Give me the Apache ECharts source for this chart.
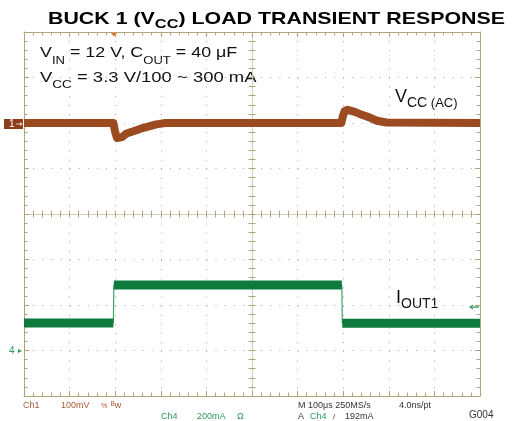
<!DOCTYPE html>
<html><head><meta charset="utf-8">
<script src="https://cdn.jsdelivr.net/npm/echarts@6/dist/echarts.min.js"></script>
<style>html,body{margin:0;padding:0;background:#fff}#c{width:524px;height:421px}</style>
</head><body><div id="c"></div>
<script>
// ---- data (time in µs relative to screen centre) ----
const vccTimeUs = [-500, -304, -300, -296, -292, -285, -275, -260, -246, -224, -210, -190, 196, 199, 203, 209, 216, 227, 241, 256, 274, 295, 500];
const vccMv     = [0,    0,    -20,  -33,  -35,  -31,  -23,  -18,  -13,  -7,   -3,   0,    0,   14,  26,  29,  27,  24,  18,  13,  5,   1,   0];
const ioutTimeUs = [-500, -304, -303, 197, 198, 500];
const ioutMa     = [121,  121,  288,  288, 120, 120];
// axis scales: 10 x 100 µs, ch1 100 mV/div, ch4 200 mA/div
const timeRange = [-500, 500, 100];
const ch1Range = [-600, 200, 100];
const ch4Range = [-200, 1400, 200];
const divRange = [-4, 4, 1];

const TAN = '#B1A47C';
const DOT = '#A6A6A6';
const VCC_COLOR = '#9C4A1F';
const IOUT_COLOR = '#0E7B3C';
const CH1_TXT = '#A65A35';
const CH4_TXT = '#2E9A5E';
const FONT = '"Liberation Sans", Arial, Helvetica, sans-serif';

function axis(r, extra) {
  const a = {
    type: 'value', min: r[0], max: r[1], interval: r[2], silent: true,
    axisLabel: {show: false},
    splitLine: {show: false},
    axisLine: {show: true, onZero: false, lineStyle: {color: TAN, width: 1}},
    axisTick: {show: true, inside: true, length: 5, lineStyle: {color: TAN, width: 1}},
    minorTick: {show: true, splitNumber: 5, length: 3.5, lineStyle: {color: TAN, width: 1}},
    minorSplitLine: {show: false}
  };
  return Object.assign(a, extra);
}
const dotted = {show: true, lineStyle: {color: DOT, width: 1, type: [1, 8.12]}};
const faintLine = {show: true, onZero: false, lineStyle: {color: '#D6CDB4', width: 1}};
const noLine = {show: false, onZero: false};
const ctrTickIn = {show: true, inside: true, length: 3.5, lineStyle: {color: TAN, width: 1}};
const ctrTickOut = {show: true, inside: false, length: 3.5, lineStyle: {color: TAN, width: 1}};
const ctrMinor = {show: true, splitNumber: 5, length: 3.5, lineStyle: {color: TAN, width: 1}};

const vccData = vccTimeUs.map((t, i) => [t, vccMv[i]]);
const ioutThin = ioutTimeUs.map((t, i) => [t, ioutMa[i]]);
const ioutThick = [];
for (let i = 0; i < ioutTimeUs.length - 1; i++) {
  if (ioutMa[i] === ioutMa[i + 1]) {
    ioutThick.push([ioutTimeUs[i], ioutMa[i]], [ioutTimeUs[i + 1], ioutMa[i + 1]], [ioutTimeUs[i + 1], '-']);
  }
}

function txt(x, y, s, color, size, extra) {
  return Object.assign({type: 'text', x: x, y: y, silent: true,
    style: {text: s, fill: color, fontSize: size, fontFamily: FONT, verticalAlign: 'middle', align: 'left'}}, extra || {});
}

const chart = echarts.init(document.getElementById('c'), null, {renderer: 'canvas'});
chart.setOption({
  animation: false,
  backgroundColor: '#fff',
  grid: {left: 24, top: 32, width: 456, height: 364, containLabel: false, outerBoundsMode: 'none'},
  xAxis: [
    axis(timeRange, {position: 'bottom', splitLine: dotted}),
    axis(timeRange, {position: 'top'}),
    axis(timeRange, {position: 'bottom', offset: -182, axisLine: faintLine, axisTick: ctrTickIn, minorTick: ctrMinor}),
    axis(timeRange, {position: 'bottom', offset: -182, axisLine: noLine, axisTick: ctrTickOut, minorTick: ctrMinor})
  ],
  yAxis: [
    axis(ch1Range, {position: 'left', splitLine: dotted}),
    axis(ch4Range, {position: 'right'}),
    axis(divRange, {position: 'left', offset: -228, axisLine: faintLine, axisTick: ctrTickIn, minorTick: ctrMinor}),
    axis(divRange, {position: 'left', offset: -228, axisLine: noLine, axisTick: ctrTickOut, minorTick: ctrMinor})
  ],
  series: [
    {type: 'line', xAxisIndex: 0, yAxisIndex: 0, data: vccData, symbol: 'none', z: 5,
     lineStyle: {color: VCC_COLOR, width: 8, join: 'round'}},
    {type: 'line', xAxisIndex: 0, yAxisIndex: 1, data: ioutThin, symbol: 'none', z: 4,
     lineStyle: {color: '#3FA064', width: 1.2}},
    {type: 'line', xAxisIndex: 0, yAxisIndex: 1, data: ioutThick, symbol: 'none', z: 5, connectNulls: false,
     lineStyle: {color: IOUT_COLOR, width: 9}}
  ],
  graphic: [
    // title
    {type: 'text', x: 48, y: 7, scaleX: 1.257, silent: true, style: {
      text: '{m|BUCK 1 (V}{s|CC}{m|) LOAD TRANSIENT RESPONSE}', verticalAlign: 'top', align: 'left',
      rich: {m: {fontSize: 17, fontWeight: 'bold', fontFamily: FONT, lineHeight: 24, fill: '#000'},
             s: {fontSize: 13, fontWeight: 'bold', fontFamily: FONT, lineHeight: 13, verticalAlign: 'bottom', fill: '#000'}}}},
    {type: 'text', x: 40, y: 40, scaleX: 1.19, silent: true, style: {
      text: '{m|V}{s|IN}{m| = 12 V, C}{s|OUT}{m| = 40 μF}', verticalAlign: 'top', align: 'left',
      rich: {m: {fontSize: 15, fontFamily: FONT, lineHeight: 26, fill: '#111'},
             s: {fontSize: 11, fontFamily: FONT, lineHeight: 11, verticalAlign: 'bottom', fill: '#111'}}}},
    {type: 'text', x: 40, y: 64.5, scaleX: 1.23, silent: true, style: {
      text: '{m|V}{s|CC}{m| = 3.3 V/100 ~ 300 mA}', verticalAlign: 'top', align: 'left',
      rich: {m: {fontSize: 15, fontFamily: FONT, lineHeight: 26, fill: '#111'},
             s: {fontSize: 11, fontFamily: FONT, lineHeight: 11, verticalAlign: 'bottom', fill: '#111'}}}},
    {type: 'text', x: 395, y: 83, silent: true, style: {
      text: '{m|V}{s|CC}{t| (AC)}', verticalAlign: 'top', align: 'left',
      rich: {m: {fontSize: 18, fontFamily: FONT, lineHeight: 27.4, fill: '#111'},
             s: {fontSize: 14, fontFamily: FONT, lineHeight: 14, verticalAlign: 'bottom', fill: '#111'},
             t: {fontSize: 13, fontFamily: FONT, lineHeight: 13.3, verticalAlign: 'bottom', fill: '#111'}}}},
    {type: 'text', x: 396, y: 285, silent: true, style: {
      text: '{m|I}{s|OUT1}', verticalAlign: 'top', align: 'left',
      rich: {m: {fontSize: 18, fontFamily: FONT, lineHeight: 26.2, fill: '#111'},
             s: {fontSize: 14, fontFamily: FONT, lineHeight: 14, verticalAlign: 'bottom', fill: '#111'}}}},
    // channel markers
    {type: 'rect', silent: true, shape: {x: 4, y: 119, width: 19, height: 10}, style: {fill: '#8E3E1C'}},
    txt(9, 124.5, '1', '#fff', 10),
    {type: 'polyline', silent: true, shape: {points: [[16, 124], [21, 124]]}, style: {stroke: '#E8C8B0', lineWidth: 1}},
    {type: 'polygon', silent: true, shape: {points: [[20, 122], [23, 124], [20, 126]]}, style: {fill: '#E8C8B0'}},
    {type: 'polygon', silent: true, shape: {points: [[110, 32], [118, 32], [114, 36.5]]}, style: {fill: '#F06A22'}},
    txt(9, 351.5, '4', CH4_TXT, 10),
    {type: 'polygon', silent: true, shape: {points: [[18, 349], [22, 351], [18, 353]]}, style: {fill: CH4_TXT}},
    {type: 'polygon', silent: true, shape: {points: [[469, 307], [473, 304.5], [473, 309.5]]}, style: {fill: '#3A9A5A'}},
    {type: 'polyline', silent: true, shape: {points: [[472, 307], [479, 307]]}, style: {stroke: '#7DBA92', lineWidth: 2}},
    // status line
    txt(23, 406, 'Ch1', CH1_TXT, 9),
    txt(61, 406, '100mV', CH1_TXT, 9),
    txt(101, 406, '%', CH1_TXT, 7),
    txt(111, 406, 'ᴮw', CH1_TXT, 9),
    txt(161, 417, 'Ch4', CH4_TXT, 9),
    txt(197, 417, '200mA', CH4_TXT, 9),
    txt(237, 417, 'Ω', CH4_TXT, 9),
    txt(298, 406, 'M 100μs 250MS/s', '#333', 9),
    txt(399, 406, '4.0ns/pt', '#333', 9),
    txt(298, 417, 'A', '#333', 9),
    txt(310, 417, 'Ch4', CH4_TXT, 9),
    txt(333, 417, '/', '#333', 8),
    txt(345, 417, '192mA', '#333', 9),
    txt(469, 415, 'G004', '#333', 10)
  ]
});
</script>
</body></html>
